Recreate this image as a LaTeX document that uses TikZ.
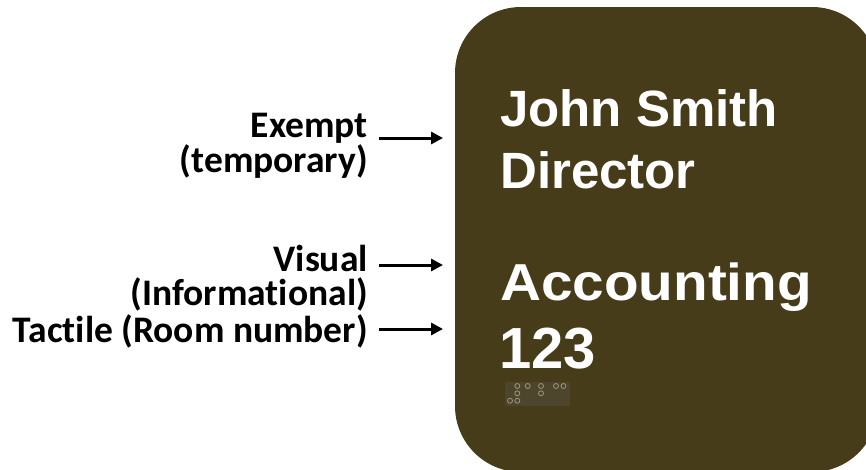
\documentclass[tikz,border=0pt]{standalone}
\usepackage{fontspec}
\usetikzlibrary{arrows.meta}
\newfontfamily\labfont{Carlito}[Ligatures=NoCommon]
\newfontfamily\signfont{Liberation Sans}
\definecolor{signbrown}{RGB}{71,60,26}
\definecolor{braillebg}{RGB}{78,70,44}
\definecolor{brailledot}{RGB}{160,150,122}
\tikzset{
  lab/.style={inner sep=0pt, anchor=base east, font=\labfont\bfseries\fontsize{37.5}{44}\selectfont, text=black},
  signtxt/.style={inner sep=0pt, anchor=base west, text=white},
  pointer/.style={line width=3pt, -{Triangle[length=12pt,width=12pt]}},
  bdot/.style={draw=brailledot, line width=0.8pt}
}
\begin{document}
\begin{tikzpicture}[x=1pt,y=-1pt]
\useasboundingbox (0,0) rectangle (866,469);
\begin{scope}
\clip (0,0) rectangle (866,469);
\fill[signbrown, rounded corners=66pt] (455,7) rectangle (878,472);
\end{scope}
% sign text
\node[signtxt, font=\signfont\bfseries\fontsize{51}{60}\selectfont] (john) at (500,126) {John Smith};
\node[signtxt, font=\signfont\bfseries\fontsize{51}{60}\selectfont] (dir) at (500,188) {Director};
\node[signtxt, font=\signfont\bfseries\fontsize{52}{60}\selectfont, xscale=1.09] (acc) at (500,300) {Accounting};
\node[signtxt, font=\signfont\bfseries\fontsize{58}{66}\selectfont] (num) at (499,368) {123};
% braille
\fill[braillebg] (505,382) rectangle (570,406);
\foreach \bx/\by in {510/400.7, 517.3/386, 517.3/393.3, 517.3/400.7, 527.7/386, 541/386, 541/393.3, 556/386, 563.5/386}
  \draw[bdot] (\bx,\by) circle (2.5pt);
% labels
\node[lab] (ex1) at (368,137) {Exempt};
\node[lab] (ex2) at (368,172) {(temporary)};
\node[lab] (vi1) at (368,271) {Visual};
\node[lab] (vi2) at (368,305) {(Informational)};
\node[lab] (ta1) at (368,342) {Tactile (Room number)};
% arrows
\coordinate (exs) at (379,138);
\coordinate (exe) at (443,138);
\coordinate (vis) at (379,265);
\coordinate (vie) at (443,265);
\coordinate (tas) at (379,329);
\coordinate (tae) at (443,329);
\draw[pointer] (exs) -- (exe);
\draw[pointer] (vis) -- (vie);
\draw[pointer] (tas) -- (tae);
\end{tikzpicture}
\end{document}
